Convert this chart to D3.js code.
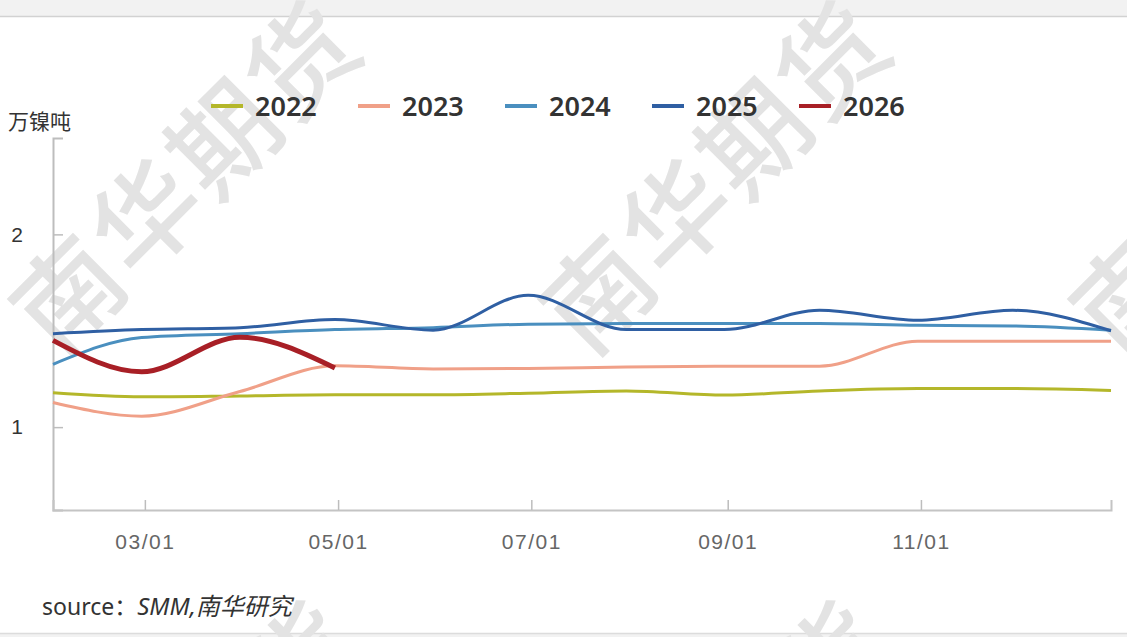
<!DOCTYPE html>
<html>
<head>
<meta charset="utf-8">
<script src="https://cdn.jsdelivr.net/npm/d3@7"></script>
<style>
  html, body { margin: 0; padding: 0; background: #fff; }
  svg { display: block; font-family: "Noto Sans", "Noto Sans CJK SC", sans-serif; }
</style>
</head>
<body>
<svg width="1127" height="637"></svg>
<script>
// month-end dates (Jan..Dec), plotted on a common year
var months = ["01-31","02-28","03-31","04-30","05-31","06-30","07-31","08-31","09-30","10-31","11-30","12-31"];
var years = ["2022", "2023", "2024", "2025", "2026"];
var colors = ["#b4b72a", "#f0a088", "#4a8fbf", "#2f5fa3", "#a81f26"];

var v2022 = [1.178, 1.157, 1.162, 1.168, 1.168, 1.176, 1.188, 1.166, 1.188, 1.200, 1.200, 1.190];
var v2023 = [1.128, 1.057, 1.185, 1.318, 1.302, 1.304, 1.312, 1.316, 1.316, 1.446, 1.446, 1.446];
var v2024 = [1.326, 1.465, 1.485, 1.506, 1.516, 1.534, 1.537, 1.537, 1.537, 1.528, 1.525, 1.503];
var v2025 = [1.485, 1.506, 1.516, 1.558, 1.503, 1.684, 1.506, 1.506, 1.606, 1.554, 1.606, 1.500];
var v2026 = [1.450, 1.287, 1.466, 1.307];

var yTicks = [1, 2];
var xTicks = ["03-01", "05-01", "07-01", "09-01", "11-01"];

var series = [v2022, v2023, v2024, v2025, v2026];

var svg = d3.select("svg"),
    width = +svg.attr("width"),
    height = +svg.attr("height");

var parse = d3.timeParse("%Y-%m-%d");
var dates = months.map(function(m) { return parse("2023-" + m); });

var x = d3.scaleTime()
    .domain([dates[0], dates[dates.length - 1]])
    .range([53, 1111]);

var y = d3.scaleLinear()
    .domain([0.57, 2.5])
    .range([510, 138]);

// frame bands top and bottom
svg.append("rect").attr("x", 0).attr("y", 0).attr("width", width).attr("height", 16).attr("fill", "#f2f2f2");
svg.append("line").attr("x1", 0).attr("x2", width).attr("y1", 16.5).attr("y2", 16.5).attr("stroke", "#d2d2d2").attr("stroke-width", 1.5);
svg.append("rect").attr("x", 0).attr("y", 634).attr("width", width).attr("height", 3).attr("fill", "#f2f2f2");
svg.append("line").attr("x1", 0).attr("x2", width).attr("y1", 633.5).attr("y2", 633.5).attr("stroke", "#dcdcdc").attr("stroke-width", 1.5);

// watermark
var wm = svg.append("g").attr("class", "watermark");
[[188, 178], [718, 178], [1248, 178], [188, 778], [718, 778]].forEach(function(p) {
  wm.append("text")
    .attr("transform", "translate(" + p[0] + "," + p[1] + ") rotate(-45)")
    .attr("text-anchor", "middle")
    .attr("dy", "0.35em")
    .attr("font-size", 106)
    .attr("font-family", "Noto Sans CJK SC")
    .attr("font-weight", 500)
    .attr("fill", "#e3e3e3")
    .attr("letter-spacing", 4)
    .text("南华期货");
});

// axes
var yAxis = d3.axisLeft(y).tickValues(yTicks).tickSize(-10).tickPadding(22).tickFormat(d3.format("d"));
var gy = svg.append("g").attr("transform", "translate(53,0)").call(yAxis);
gy.select(".domain").attr("stroke", "#bdbdbd").attr("stroke-width", 2);
gy.selectAll(".tick line").attr("stroke", "#bdbdbd").attr("stroke-width", 1.5);
gy.selectAll(".tick text").attr("fill", "#333").attr("font-size", 21).attr("text-anchor", "middle").attr("x", -36);

var xAxis = d3.axisBottom(x)
    .tickValues(xTicks.map(function(t) { return parse("2023-" + t); }))
    .tickSize(-10).tickPadding(24)
    .tickFormat(d3.timeFormat("%m/%d"));
var gx = svg.append("g").attr("transform", "translate(0,510)").call(xAxis);
gx.select(".domain").attr("stroke", "#c4c4c4").attr("stroke-width", 2);
gx.selectAll(".tick line").attr("stroke", "#bdbdbd").attr("stroke-width", 1.5);
gx.selectAll(".tick text").attr("fill", "#666").attr("font-size", 21).attr("letter-spacing", 1.5);

svg.append("text")
  .attr("x", 8).attr("y", 129)
  .attr("font-size", 21).attr("fill", "#333")
  .text("万镍吨");

// lines
var line = d3.line()
  .x(function(d, i) { return x(dates[i]); })
  .y(function(d) { return y(d); })
  .curve(d3.curveMonotoneX);

svg.append("g").selectAll("path")
  .data(series)
  .enter().append("path")
  .attr("d", line)
  .attr("fill", "none")
  .attr("stroke", function(d, i) { return colors[i]; })
  .attr("stroke-width", function(d, i) { return i == 4 ? 5 : 3; })
  .attr("stroke-linejoin", "round");

// legend
var step = 147, legX = 211;
var leg = svg.append("g").selectAll("g")
  .data(years)
  .enter().append("g")
  .attr("transform", function(d, i) { return "translate(" + (legX + i * step) + ",106)"; });

leg.append("line")
  .attr("x1", 0).attr("x2", 32)
  .attr("stroke", function(d, i) { return colors[i]; })
  .attr("stroke-width", 4);

leg.append("text")
  .attr("x", 44).attr("dy", "0.36em")
  .attr("font-size", 27).attr("font-weight", 600)
  .attr("fill", "#333")
  .text(function(d) { return d; });

// source
var src = svg.append("text").attr("x", 42).attr("y", 615).attr("font-size", 23).attr("fill", "#333");
src.append("tspan").text("source：");
src.append("tspan").attr("font-style", "italic").attr("font-size", 24).text("SMM,南华研究");
</script>
</body>
</html>
